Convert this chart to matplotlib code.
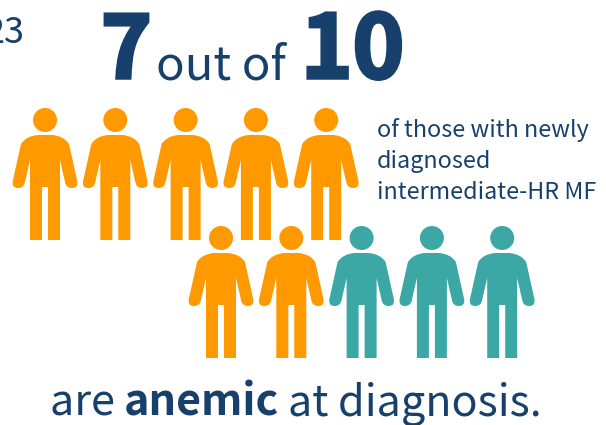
import matplotlib
matplotlib.use("Agg")
from matplotlib import pyplot as plt
from matplotlib.path import Path
from matplotlib.patches import PathPatch, Circle
from matplotlib.transforms import Affine2D
import matplotlib.patheffects as pe

plt.rcParams['font.family'] = ['Noto Sans CJK SC', 'DejaVu Sans']

# 7 out of 10 people
affected = 7
total = 10
per_row = 5

NAVY = '#17406D'
ORANGE = '#FF9900'
TEAL = '#3BA8A6'

# person outline, origin at middle of the top of the shoulders
M, L, C, Z = Path.MOVETO, Path.LINETO, Path.CURVE3, Path.CLOSEPOLY
body = [
    (M, (-7, 0)), (L, (7, 0)), (C, (19, 1)), (C, (24, 9)),
    (L, (32, 45)), (C, (34, 53)), (C, (27, 53)), (C, (21, 53)), (C, (20, 47)),
    (L, (15, 25)), (L, (15, 105)), (L, (3, 105)), (L, (3, 52)), (L, (-3, 52)),
    (L, (-3, 105)), (L, (-15, 105)), (L, (-15, 25)), (L, (-20, 47)),
    (C, (-21, 53)), (C, (-27, 53)), (C, (-34, 53)), (C, (-32, 45)),
    (L, (-24, 9)), (C, (-19, 1)), (C, (-7, 0)), (Z, (0, 0)),
]
codes = [b[0] for b in body]
verts = [b[1] for b in body]
person = Path(verts, codes)

fig = plt.figure(figsize=(6.06, 4.25), dpi=100)
ax = fig.add_axes([0, 0, 1, 1])
ax.set_xlim(0, 606)
ax.set_ylim(425, 0)
ax.axis('off')

row_x = [45, 221]
row_y = [135, 253]
step = 70.3
for i in range(total):
    row = i // per_row
    x = row_x[row] + (i % per_row) * step
    y = row_y[row]
    color = ORANGE if i < affected else TEAL
    tr = Affine2D().translate(x, y) + ax.transData
    ax.add_patch(PathPatch(person, facecolor=color, edgecolor='none', transform=tr))
    ax.add_patch(Circle((x, y - 15), 12, facecolor=color, edgecolor='none'))

# the big numbers are heavier than the font, so thicken them
heavy = [pe.withStroke(linewidth=2.5, foreground=NAVY, joinstyle='miter')]

ax.text(25, 43, '23', color=NAVY, fontsize=26, fontweight='light', ha='right', va='baseline')
ax.text(101, 78, '7', color=NAVY, fontsize=62, fontweight='black', va='baseline', path_effects=heavy)
ax.text(156, 79, 'out of', color=NAVY, fontsize=34, fontweight='light', va='baseline')
ax.text(301, 78, '10', color=NAVY, fontsize=63, fontweight='black', va='baseline', path_effects=heavy)

ax.text(377, 137, 'of those with newly', color=NAVY, fontsize=16.8, fontweight='regular', va='baseline')
ax.text(377, 168, 'diagnosed', color=NAVY, fontsize=16.8, fontweight='regular', va='baseline')
ax.text(377, 199, 'intermediate-HR MF', color=NAVY, fontsize=16.8, fontweight='regular', va='baseline')

ax.text(50, 416, 'are ', color=NAVY, fontsize=31, fontweight='light', va='baseline')
ax.text(124, 416, 'anemic', color=NAVY, fontsize=31, fontweight='bold', va='baseline')
ax.text(288, 416, 'at diagnosis.', color=NAVY, fontsize=31, fontweight='light', va='baseline')

fig.savefig('out.png', dpi=100)
